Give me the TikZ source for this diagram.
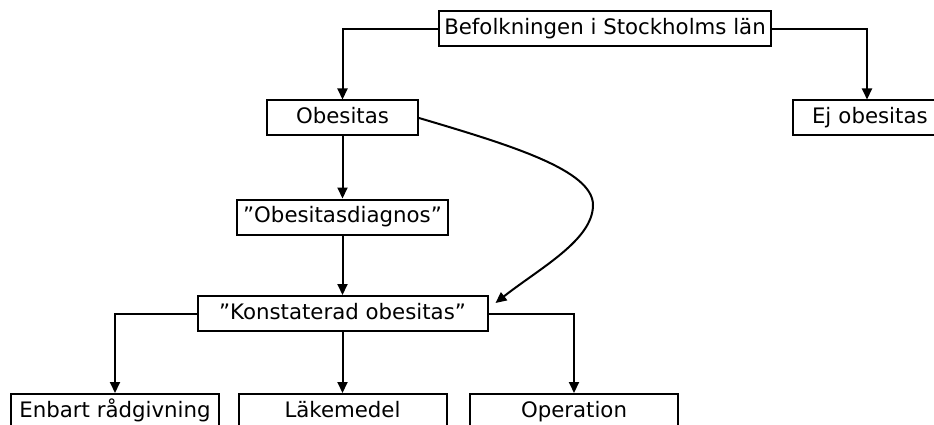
\documentclass[tikz,border=0pt]{standalone}
\usepackage{fontspec}
\setmainfont{DejaVu Sans}
\usetikzlibrary{arrows.meta}
\begin{document}
\begin{tikzpicture}[x=1pt,y=-1pt,
  box/.style={draw,line width=2pt,inner sep=0pt,minimum height=35pt,text height=15.5pt,text depth=4.5pt,font=\fontsize{21.3}{25}\selectfont},
  arr/.style={line width=2pt,-{Triangle[length=11pt,width=10pt]}}]
\useasboundingbox (0,0) rectangle (934,425);
\clip (0,0) rectangle (934,425);
\node[box,minimum width=332pt] (top) at (605,29) {Befolkningen i Stockholms län};
\node[box,minimum width=151pt] (ob) at (342.5,118) {Obesitas};
\node[box,minimum width=148pt,text width=148pt,align=left] (ej) at (867,118) {\hspace*{19pt}Ej obesitas};
\node[box,minimum width=211pt] (diag) at (342.5,217) {”Obesitasdiagnos”};
\node[box,minimum width=290pt] (konst) at (342.5,313.5) {”Konstaterad obesitas”};
\node[box,minimum width=208pt,minimum height=36pt] (enb) at (115,412) {Enbart rådgivning};
\node[box,minimum width=208pt,minimum height=36pt] (lak) at (342.5,412) {Läkemedel};
\node[box,minimum width=208pt,minimum height=36pt] (op) at (574,412) {Operation};
\coordinate (bend) at (593,205);
\draw[arr] (top.west) -| (ob.north);
\draw[arr] (top.east) -| (ej.north);
\draw[arr] (ob.south) -- (diag.north);
\draw[arr] (diag.south) -- (konst.north);
\draw[arr] (ob.east) .. controls (510,145) and (593,170) .. (bend)
  .. controls (593,240) and (540,268) .. ([shift={(7pt,-8pt)}]konst.north east);
\draw[arr] (konst.west) -| (enb.north);
\draw[arr] (konst.south) -- (lak.north);
\draw[arr] (konst.east) -| (op.north);
\end{tikzpicture}
\end{document}
